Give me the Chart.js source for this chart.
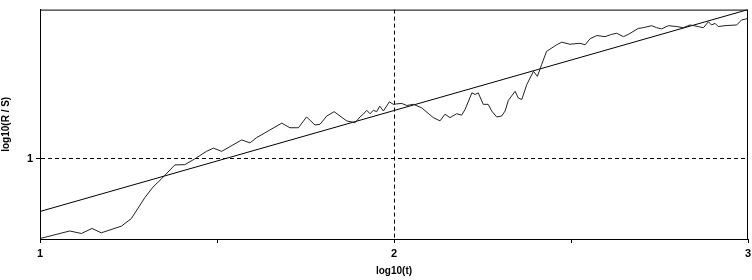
<!DOCTYPE html>
<html lang="en">
<head>
    <meta charset="UTF-8">
    <title>R/S analysis</title>
    <script src="https://cdn.jsdelivr.net/npm/chart.js"></script>
    <style>
        html, body { margin: 0; padding: 0; background: #fff; }
        .chart-box { width: 752px; height: 280px; }
    </style>
</head>
<body>
    <div class="chart-box">
        <canvas id="rsChart"></canvas>
    </div>

    <script>
        // log10(t) values of the R/S curve
        const logT = [
            1.000, 1.084, 1.117, 1.147, 1.173, 1.230, 1.258, 1.296, 1.319, 1.343,
            1.381, 1.409, 1.437, 1.470, 1.490, 1.513, 1.570, 1.593, 1.612, 1.683,
            1.706, 1.730, 1.753, 1.777, 1.791, 1.810, 1.831, 1.866, 1.890, 1.904,
            1.913, 1.923, 1.932, 1.942, 1.951, 1.960, 1.970, 1.987, 1.998, 2.008,
            2.022, 2.036, 2.055, 2.078, 2.111, 2.130, 2.144, 2.158, 2.177, 2.191,
            2.201, 2.220, 2.229, 2.238, 2.252, 2.266, 2.276, 2.290, 2.304, 2.314,
            2.323, 2.342, 2.351, 2.361, 2.375, 2.394, 2.405, 2.417, 2.431, 2.460,
            2.474, 2.497, 2.525, 2.540, 2.554, 2.573, 2.596, 2.615, 2.629, 2.648,
            2.662, 2.690, 2.704, 2.728, 2.742, 2.756, 2.775, 2.799, 2.817, 2.836,
            2.860, 2.874, 2.888, 2.897, 2.907, 2.916, 2.935, 2.968, 2.982, 2.994,
            3.000
        ];

        // log10(R/S) values
        const logRS = [
            0.652, 0.685, 0.674, 0.696, 0.677, 0.706, 0.739, 0.830, 0.876, 0.912,
            0.973, 0.974, 0.999, 1.032, 1.046, 1.032, 1.082, 1.069, 1.092, 1.155,
            1.135, 1.135, 1.182, 1.147, 1.150, 1.186, 1.205, 1.165, 1.157, 1.182,
            1.194, 1.211, 1.196, 1.211, 1.205, 1.229, 1.208, 1.248, 1.237, 1.239,
            1.241, 1.232, 1.237, 1.222, 1.179, 1.165, 1.194, 1.179, 1.196, 1.190,
            1.215, 1.287, 1.280, 1.287, 1.237, 1.237, 1.208, 1.182, 1.186, 1.208,
            1.254, 1.294, 1.265, 1.258, 1.323, 1.381, 1.359, 1.410, 1.468, 1.497,
            1.508, 1.499, 1.503, 1.497, 1.523, 1.537, 1.532, 1.542, 1.547, 1.532,
            1.542, 1.568, 1.571, 1.580, 1.571, 1.566, 1.580, 1.576, 1.571, 1.583,
            1.576, 1.571, 1.597, 1.583, 1.590, 1.576, 1.580, 1.583, 1.605, 1.609,
            1.613
        ];

        // fitted regression line (end points)
        const fitT = [1, 3];
        const fitRS = [0.770, 1.650];

        const xTickLabels = [1, 2, 3];
        const yTickLabels = [1];

        const toPoints = (xs, ys) => xs.map((x, i) => ({ x: x, y: ys[i] }));

        // frame around the plot area
        const frame = {
            id: 'frame',
            afterDraw(chart) {
                const a = chart.chartArea;
                const ctx = chart.ctx;
                ctx.save();
                ctx.strokeStyle = '#000';
                ctx.lineWidth = 1;
                ctx.strokeRect(a.left + 0.5, a.top + 0.5, a.right - a.left - 1, a.bottom - a.top);
                ctx.restore();
            }
        };

        const font = { family: "'Liberation Sans', Arial, sans-serif", size: 11, weight: 'bold' };

        new Chart(document.getElementById('rsChart'), {
            type: 'scatter',
            data: {
                datasets: [
                    {
                        label: 'R/S',
                        data: toPoints(logT, logRS),
                        showLine: true,
                        borderColor: '#222',
                        borderWidth: 1,
                        pointRadius: 0,
                        tension: 0
                    },
                    {
                        label: 'fit',
                        data: toPoints(fitT, fitRS),
                        showLine: true,
                        borderColor: '#000',
                        borderWidth: 1,
                        pointRadius: 0
                    }
                ]
            },
            options: {
                responsive: true,
                maintainAspectRatio: false,
                animation: false,
                layout: { padding: { top: 8, right: 4, bottom: 0, left: 0 } },
                plugins: {
                    legend: { display: false },
                    tooltip: { enabled: false }
                },
                scales: {
                    x: {
                        type: 'linear',
                        min: 1,
                        max: 3,
                        afterBuildTicks: (scale) => {
                            scale.ticks = [1, 1.5, 2, 2.5, 3].map(v => ({ value: v }));
                        },
                        afterFit: (scale) => {
                            scale.height = 41;
                            scale.paddingRight = 0;
                            scale.paddingLeft = 0;
                        },
                        ticks: {
                            color: '#000',
                            font: font,
                            padding: 4,
                            maxRotation: 0,
                            callback: (v) => xTickLabels.includes(v) ? String(v) : ''
                        },
                        grid: {
                            color: (ctx) => ctx.tick && ctx.tick.value === 2 ? '#000' : 'rgba(0,0,0,0)',
                            tickColor: '#000',
                            tickLength: 4,
                            lineWidth: 1
                        },
                        border: { color: '#000', width: 1, dash: [4, 3] },
                        title: {
                            display: true,
                            text: 'log10(t)',
                            color: '#000',
                            font: { family: font.family, size: 10, weight: 'bold' },
                            padding: { top: 0, bottom: 3 }
                        }
                    },
                    y: {
                        type: 'linear',
                        min: 0.65,
                        max: 1.65,
                        afterBuildTicks: (scale) => {
                            scale.ticks = yTickLabels.map(v => ({ value: v }));
                        },
                        afterFit: (scale) => { scale.width = 40; },
                        ticks: {
                            color: '#000',
                            font: font,
                            padding: 3
                        },
                        grid: {
                            color: '#000',
                            tickColor: '#000',
                            tickLength: 4,
                            lineWidth: 1
                        },
                        border: { color: '#000', width: 1, dash: [4, 3] },
                        title: {
                            display: true,
                            text: 'log10(R / S)',
                            color: '#000',
                            font: { family: font.family, size: 10, weight: 'bold' },
                            padding: { top: 0, bottom: 0 }
                        }
                    }
                }
            },
            plugins: [frame]
        });
    </script>
</body>
</html>
